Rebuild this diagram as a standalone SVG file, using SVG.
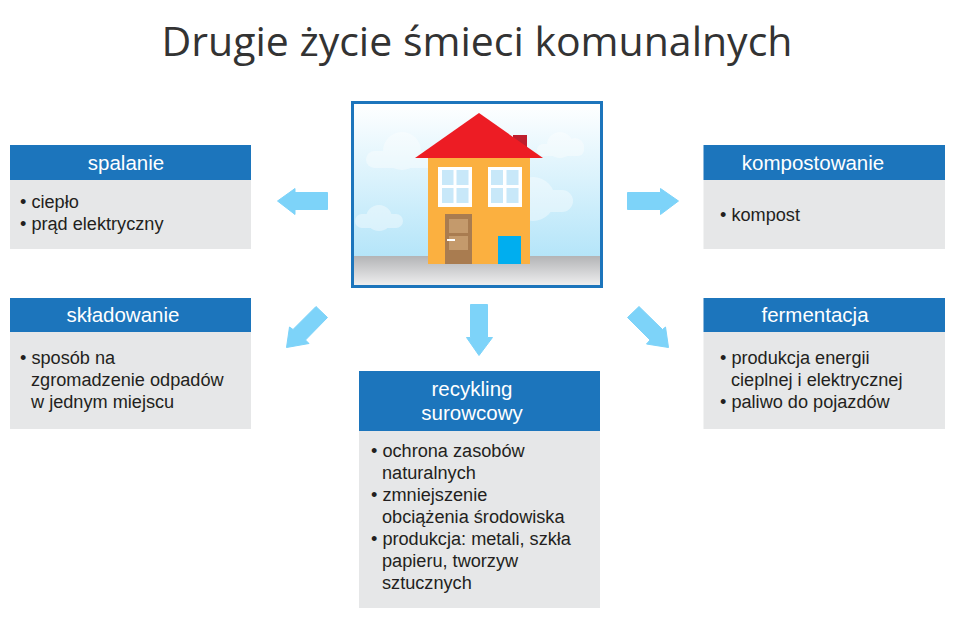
<svg xmlns="http://www.w3.org/2000/svg" width="960" height="618" viewBox="0 0 960 618">
<style>
text{font-family:"Liberation Sans",Arial,sans-serif}
.title{font-family:"Open Sans",sans-serif;font-size:41px;fill:#333;text-anchor:middle}
.hd{fill:#1c75bc}
.bd{fill:#e6e7e8}
.ht{font-size:20.500px;fill:#fff;text-anchor:middle}
.bt{font-size:18.150px;fill:#231f20}
.ar{fill:#7dd3f9;stroke:#7dd3f9;stroke-width:1;stroke-linejoin:round}
.cl{fill:#fff;opacity:.4}
</style>
<defs>
<linearGradient id="sky" x1="0" y1="0" x2="0" y2="1"><stop offset="0" stop-color="#fff"/><stop offset="1" stop-color="#a6e0f8"/></linearGradient>
<linearGradient id="gnd" x1="0" y1="0" x2="0" y2="1"><stop offset="0" stop-color="#b3b4b6"/><stop offset="1" stop-color="#eeeeef"/></linearGradient>
</defs>
<rect width="960" height="618" fill="#fff"/>
<text class="title" x="477" y="56">Drugie życie śmieci komunalnych</text>
<g id="house">
<rect x="352.500" y="102.500" width="249" height="184" fill="url(#sky)" stroke="#1c75bc" stroke-width="3"/>
<rect x="354" y="256" width="246" height="29" fill="url(#gnd)"/>
<g class="cl"><circle cx="402" cy="151" r="19"/><rect x="366" y="151" width="70" height="17" rx="8.500"/></g>
<g class="cl"><circle cx="560" cy="145" r="13"/><rect x="537" y="144" width="47" height="12" rx="6"/><circle cx="575" cy="147" r="9"/></g>
<g class="cl"><circle cx="533" cy="199" r="22"/><rect x="525" y="190" width="48" height="22" rx="11"/></g>
<g class="cl"><circle cx="379" cy="218" r="13"/><rect x="355" y="214" width="48" height="14" rx="7"/></g>
<rect x="513" y="135" width="14" height="18" fill="#be1e2d"/>
<rect x="428" y="158" width="102" height="106" fill="#fbb040"/>
<polygon points="479,113 543,158 415,158" fill="#ed1c24"/>
<rect x="438" y="167" width="34" height="40" fill="#fff"/>
<rect x="488" y="167" width="34" height="40" fill="#fff"/>
<g fill="#c8e8f9">
<rect x="442" y="170" width="11.500" height="15"/><rect x="456.500" y="170" width="12" height="15"/><rect x="442" y="188" width="11.500" height="15"/><rect x="456.500" y="188" width="12" height="15"/>
<rect x="491" y="170" width="12" height="15"/><rect x="506.500" y="170" width="12" height="15"/><rect x="491" y="188" width="12" height="15"/><rect x="506.500" y="188" width="12" height="15"/>
</g>
<rect x="445" y="214" width="27" height="50" fill="#a97c50"/>
<rect x="449" y="219" width="19" height="14" fill="#c49a6c"/>
<rect x="449" y="236" width="19" height="14" fill="#c49a6c"/>
<rect x="447" y="239" width="8" height="2" fill="#fff"/>
<rect x="498" y="236" width="23" height="28" fill="#00aeef"/>
</g>
<g id="connectors">
<polygon class="ar" points="277.500,201 295,188.500 295,192.500 327.500,192.500 327.500,209.500 295,209.500 295,214.500"/>
<polygon class="ar" points="678.500,201 660.500,188.500 660.500,192.500 627.500,192.500 627.500,209.500 660.500,209.500 660.500,214.500"/>
<polygon class="ar" points="470.500,304.500 487.500,304.500 487.500,337.500 492.500,337.500 479,355.500 466.500,337.500 470.500,337.500"/>
<polygon class="ar" points="286.500,347.500 289.500,327 293,329.500 316,306.500 327.500,317.500 305.500,340 309,343.500"/>
<polygon class="ar" points="668.500,347.500 665.500,327 662.500,329.500 639,306.500 627.500,317.500 650,340 646.500,344"/>
</g>
<g id="spalanie">
<rect class="hd" x="10" y="145" width="241" height="35"/><rect class="bd" x="10" y="180" width="241" height="69"/>
<text class="ht" x="126" y="169.500">spalanie</text>
<text class="bt" x="20" y="207.500">• ciepło</text>
<text class="bt" x="20" y="229.500">• prąd elektryczny</text>
</g>
<g id="skladowanie">
<rect class="hd" x="10" y="298" width="241" height="34"/><rect class="bd" x="10" y="332" width="241" height="97"/>
<text class="ht" x="123" y="321.500">składowanie</text>
<text class="bt" x="20" y="363.500">• sposób na</text>
<text class="bt" x="31" y="385.500">zgromadzenie odpadów</text>
<text class="bt" x="31" y="407.500">w jednym miejscu</text>
</g>
<g id="recykling">
<rect class="hd" x="359" y="371" width="241" height="60"/><rect class="bd" x="359" y="431" width="241" height="177"/>
<text class="ht" x="472" y="395.500">recykling</text>
<text class="ht" x="472" y="420">surowcowy</text>
<text class="bt" x="371" y="457">• ochrona zasobów</text>
<text class="bt" x="382" y="479">naturalnych</text>
<text class="bt" x="371" y="501">• zmniejszenie</text>
<text class="bt" x="382" y="523">obciążenia środowiska</text>
<text class="bt" x="371" y="545">• produkcja: metali, szkła</text>
<text class="bt" x="382" y="567">papieru, tworzyw</text>
<text class="bt" x="382" y="589">sztucznych</text>
</g>
<g id="kompostowanie">
<rect class="hd" x="703.500" y="145" width="241.500" height="35"/><rect class="bd" x="703.500" y="180" width="241.500" height="69"/>
<text class="ht" x="813" y="169.500">kompostowanie</text>
<text class="bt" x="720" y="221">• kompost</text>
</g>
<g id="fermentacja">
<rect class="hd" x="703.500" y="298" width="241.500" height="34"/><rect class="bd" x="703.500" y="332" width="241.500" height="97"/>
<text class="ht" x="815" y="321.500">fermentacja</text>
<text class="bt" x="720" y="363.500">• produkcja energii</text>
<text class="bt" x="731" y="385.500">cieplnej i elektrycznej</text>
<text class="bt" x="720" y="407.500">• paliwo do pojazdów</text>
</g>
</svg>
